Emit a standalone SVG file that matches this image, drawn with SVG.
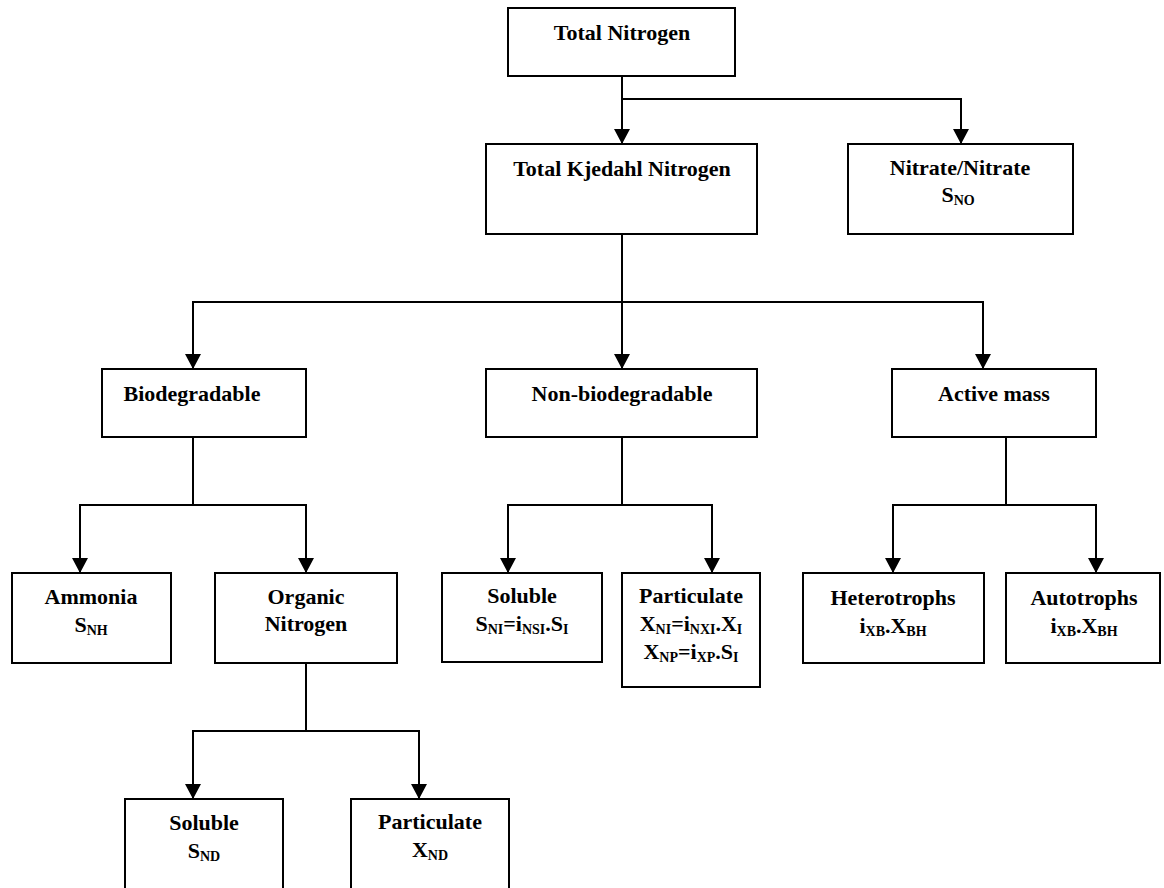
<svg xmlns="http://www.w3.org/2000/svg" width="1164" height="888" viewBox="0 0 1164 888">
<style>
.box{fill:#fff;stroke:#000;stroke-width:2}
.t{font-family:"Liberation Serif","Times New Roman",serif;font-weight:bold;font-size:22px;fill:#000;text-anchor:middle}
.s{font-size:14px}
.c{fill:none;stroke:#000;stroke-width:2}
</style>
<defs>
<marker id="arr" markerWidth="16" markerHeight="16" refX="15" refY="8" orient="auto" markerUnits="userSpaceOnUse"><path d="M0,0 L15,8 L0,16 z" fill="#000"/></marker>
</defs>
<rect width="1164" height="888" fill="#fff"/>
<g id="connectors">
<path class="c" d="M622,76 V144" marker-end="url(#arr)"/>
<path class="c" d="M622,99 H961 V144" marker-end="url(#arr)"/>
<path class="c" d="M622,234 V369" marker-end="url(#arr)"/>
<path class="c" d="M622,302 H193 V369" marker-end="url(#arr)"/>
<path class="c" d="M622,302 H983 V369" marker-end="url(#arr)"/>
<path class="c" d="M193,437 V505"/>
<path class="c" d="M193,505 H80 V573" marker-end="url(#arr)"/>
<path class="c" d="M193,505 H306 V573" marker-end="url(#arr)"/>
<path class="c" d="M622,437 V505"/>
<path class="c" d="M622,505 H508 V573" marker-end="url(#arr)"/>
<path class="c" d="M622,505 H712 V573" marker-end="url(#arr)"/>
<path class="c" d="M1006,437 V505"/>
<path class="c" d="M1006,505 H893 V573" marker-end="url(#arr)"/>
<path class="c" d="M1006,505 H1096 V573" marker-end="url(#arr)"/>
<path class="c" d="M306,663 V731"/>
<path class="c" d="M306,731 H193 V799" marker-end="url(#arr)"/>
<path class="c" d="M306,731 H419 V799" marker-end="url(#arr)"/>
</g>
<g id="total-nitrogen">
<rect class="box" x="508" y="8" width="227" height="68"/>
<text class="t" x="622" y="40">Total Nitrogen</text>
</g>
<g id="tkn">
<rect class="box" x="486" y="144" width="271" height="90"/>
<text class="t" x="622" y="176">Total Kjedahl Nitrogen</text>
</g>
<g id="nitrate">
<rect class="box" x="848" y="144" width="225" height="90"/>
<text class="t" x="960" y="175">Nitrate/Nitrate</text>
<text class="t" x="958" y="202">S<tspan class="s" dy="3">NO</tspan></text>
</g>
<g id="biodegradable">
<rect class="box" x="102" y="369" width="204" height="68"/>
<text class="t" x="192" y="401">Biodegradable</text>
</g>
<g id="non-biodegradable">
<rect class="box" x="486" y="369" width="271" height="68"/>
<text class="t" x="622" y="401">Non-biodegradable</text>
</g>
<g id="active-mass">
<rect class="box" x="892" y="369" width="204" height="68"/>
<text class="t" x="994" y="401">Active mass</text>
</g>
<g id="ammonia">
<rect class="box" x="12" y="573" width="159" height="90"/>
<text class="t" x="91" y="604">Ammonia</text>
<text class="t" x="91" y="632">S<tspan class="s" dy="3">NH</tspan></text>
</g>
<g id="organic-nitrogen">
<rect class="box" x="215" y="573" width="182" height="90"/>
<text class="t" x="306" y="604">Organic</text>
<text class="t" x="306" y="631">Nitrogen</text>
</g>
<g id="soluble-ni">
<rect class="box" x="442" y="573" width="160" height="89"/>
<text class="t" x="522" y="603">Soluble</text>
<text class="t" x="522" y="631">S<tspan class="s" dy="3">NI</tspan><tspan dy="-3">=i</tspan><tspan class="s" dy="3">NSI</tspan><tspan dy="-3">.S</tspan><tspan class="s" dy="3">I</tspan></text>
</g>
<g id="particulate-ni">
<rect class="box" x="622" y="573" width="138" height="114"/>
<text class="t" x="691" y="603">Particulate</text>
<text class="t" x="691" y="631">X<tspan class="s" dy="3">NI</tspan><tspan dy="-3">=i</tspan><tspan class="s" dy="3">NXI</tspan><tspan dy="-3">.X</tspan><tspan class="s" dy="3">I</tspan></text>
<text class="t" x="691" y="659">X<tspan class="s" dy="3">NP</tspan><tspan dy="-3">=i</tspan><tspan class="s" dy="3">XP</tspan><tspan dy="-3">.S</tspan><tspan class="s" dy="3">I</tspan></text>
</g>
<g id="heterotrophs">
<rect class="box" x="803" y="573" width="181" height="90"/>
<text class="t" x="893" y="605">Heterotrophs</text>
<text class="t" x="893" y="633">i<tspan class="s" dy="3">XB</tspan><tspan dy="-3">.X</tspan><tspan class="s" dy="3">BH</tspan></text>
</g>
<g id="autotrophs">
<rect class="box" x="1006" y="573" width="154" height="90"/>
<text class="t" x="1084" y="605">Autotrophs</text>
<text class="t" x="1084" y="633">i<tspan class="s" dy="3">XB</tspan><tspan dy="-3">.X</tspan><tspan class="s" dy="3">BH</tspan></text>
</g>
<g id="soluble-nd">
<rect class="box" x="125" y="799" width="158" height="100"/>
<text class="t" x="204" y="830">Soluble</text>
<text class="t" x="204" y="858">S<tspan class="s" dy="3">ND</tspan></text>
</g>
<g id="particulate-nd">
<rect class="box" x="351" y="799" width="158" height="100"/>
<text class="t" x="430" y="829">Particulate</text>
<text class="t" x="430" y="857">X<tspan class="s" dy="3">ND</tspan></text>
</g>
</svg>
